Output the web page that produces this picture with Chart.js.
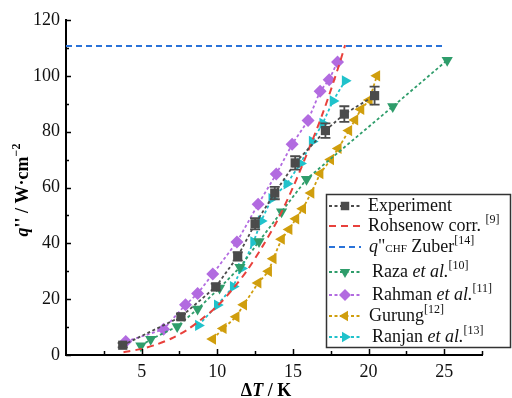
<!DOCTYPE html>
<html>
<head>
<meta charset="utf-8">
<script src="https://cdn.jsdelivr.net/npm/chart.js@4.4.0/dist/chart.umd.min.js"></script>
<style>
  html, body { margin: 0; padding: 0; background: #fff; }
  #wrap { width: 512px; height: 398px; }
</style>
</head>
<body>
<div id="wrap"><canvas id="chart" width="512" height="398"></canvas></div>
<script>
// ===== Data =====
const expDT = [3.75, 7.6, 9.9, 11.35, 12.5, 13.8, 15.15, 17.15, 18.4, 20.4];
const expQ = [3.5, 13.7, 24.4, 35.3, 47, 58, 68.8, 80.4, 86.3, 92.9];
const expErr = [0.8, 1, 1.2, 1.5, 2, 2.2, 2.4, 2.6, 2.8, 3.2];

const rohDT = [3.8, 5, 6, 7, 8, 9, 10, 11, 12, 13, 14, 15, 16, 17, 18, 18.45];
const rohQ = [1, 2.2, 3.8, 6, 9, 13, 17.5, 23.5, 30.5, 39, 48.5, 60, 73, 87, 103, 111];

const zuberDT = [0, 25];
const zuberQ = [110.7, 110.7];

const razaDT = [4.95, 5.6, 7.35, 8.7, 10.15, 11.5, 12.76, 14.25, 15.9, 21.6, 25.2];
const razaQ = [3.3, 5.6, 10.2, 16.5, 24, 31.4, 40.7, 51.3, 63, 89, 105.6];

const rahmanDT = [3.95, 6.45, 7.9, 8.7, 9.7, 11.3, 12.7, 13.9, 14.95, 16.0, 16.8, 17.4, 17.95];
const rahmanQ = [4.8, 9.2, 18, 22, 29, 40.5, 54, 64.8, 75.5, 84, 94.5, 98.6, 105];

const gurungDT = [9.7, 10.4, 11.25, 11.75, 12.7, 13.4, 13.7, 14.25, 14.75, 15.2, 15.65, 16.2, 16.8, 17.5, 18.0, 18.7, 19.1, 19.5, 20.05, 20.55];
const gurungQ = [5.7, 9.5, 13.7, 18, 25.8, 30, 34.5, 41.5, 45, 48.8, 52.4, 58, 65, 70, 74, 80.4, 84.2, 88, 91.3, 100];

const ranjanDT = [8.75, 10.0, 11.05, 11.6, 12.4, 12.9, 13.6, 14.6, 15.5, 16.27, 16.97, 17.65, 18.45];
const ranjanQ = [10.6, 17.9, 24.5, 31, 40.5, 48, 56, 61.3, 68.6, 76.5, 83, 91, 98.2];

const xTicks = [5, 10, 15, 20, 25];
const yTicks = [0, 20, 40, 60, 80, 100, 120];

const SERIF = '"Liberation Serif", "Times New Roman", serif';

function pts(xs, ys) { return xs.map((x, i) => ({ x: x, y: ys[i] })); }

function series(label, xs, ys, color, style, rot) {
    return {
        label: label, data: pts(xs, ys),
        borderColor: color, backgroundColor: color,
        borderWidth: 1.8, borderDash: [3, 2.5],
        pointStyle: style, pointRotation: rot || 0,
        pointRadius: 6.5, pointBorderWidth: 0, pointBackgroundColor: color
    };
}

const datasets = [
    series('Experiment', expDT, expQ, '#4b4b4b', 'rect', 0),
    { label: 'Rohsenow', data: pts(rohDT, rohQ), borderColor: '#e8413c', borderWidth: 2,
      borderDash: [7, 5], pointRadius: 0, tension: 0.3 },
    { label: 'Zuber', data: pts(zuberDT, zuberQ), borderColor: '#2a72d8', borderWidth: 2,
      borderDash: [6, 4], pointRadius: 0 },
    series('Raza', razaDT, razaQ, '#2f9d6b', 'triangle', 180),
    series('Rahman', rahmanDT, rahmanQ, '#b26be0', 'rectRot', 0),
    series('Gurung', gurungDT, gurungQ, '#d09e0d', 'triangle', 270),
    series('Ranjan', ranjanDT, ranjanQ, '#20c2cb', 'triangle', 90)
];

// ===== Text helper (mixed italic / superscript) =====
function drawParts(ctx, x, y, parts, measureOnly) {
    let cx = x;
    parts.forEach(p => {
        const size = p.size || 18;
        ctx.font = (p.it ? 'italic ' : '') + (p.b ? 'bold ' : '') + size + 'px ' + SERIF;
        if (!measureOnly) ctx.fillText(p.t, cx, y + (p.dy || 0));
        cx += ctx.measureText(p.t).width;
    });
    return cx - x;
}

// ===== Legend rows =====
const legendRows = [
    { ds: 0, y: 211, x: 368, parts: [{ t: 'Experiment' }] },
    { ds: 1, y: 231, x: 368, parts: [{ t: 'Rohsenow corr. ' }, { t: '[9]', size: 12, dy: -8 }] },
    { ds: 2, y: 252, x: 369, parts: [{ t: 'q', it: true }, { t: '"' }, { t: 'CHF', size: 11 }, { t: ' Zuber' }, { t: '[14]', size: 12, dy: -8 }] },
    { ds: 3, y: 277, x: 372, parts: [{ t: 'Raza ' }, { t: 'et al.', it: true }, { t: '[10]', size: 12, dy: -8 }] },
    { ds: 4, y: 300, x: 372, parts: [{ t: 'Rahman ' }, { t: 'et al.', it: true }, { t: '[11]', size: 12, dy: -8 }] },
    { ds: 5, y: 321, x: 369, parts: [{ t: 'Gurung' }, { t: '[12]', size: 12, dy: -8 }] },
    { ds: 6, y: 342, x: 372, parts: [{ t: 'Ranjan ' }, { t: 'et al.', it: true }, { t: '[13]', size: 12, dy: -8 }] }
];

const decorPlugin = {
    id: 'decor',
    afterDatasetsDraw(chart) {
        // error bars on the experiment points
        const ctx = chart.ctx, xs = chart.scales.x, ys = chart.scales.y;
        ctx.save();
        ctx.strokeStyle = '#4b4b4b';
        ctx.lineWidth = 1.8;
        ctx.setLineDash([]);
        expDT.forEach((d, i) => {
            const px = xs.getPixelForValue(d);
            const top = ys.getPixelForValue(expQ[i] + expErr[i]);
            const bot = ys.getPixelForValue(expQ[i] - expErr[i]);
            ctx.beginPath();
            ctx.moveTo(px, top); ctx.lineTo(px, bot);
            ctx.moveTo(px - 5, top); ctx.lineTo(px + 5, top);
            ctx.moveTo(px - 5, bot); ctx.lineTo(px + 5, bot);
            ctx.stroke();
        });
        ctx.restore();
    },
    afterDraw(chart) {
        const ctx = chart.ctx, xs = chart.scales.x, ys = chart.scales.y;
        const area = chart.chartArea;
        ctx.save();
        // inward tick marks
        ctx.strokeStyle = '#000';
        ctx.lineWidth = 1.5;
        ctx.setLineDash([]);
        ctx.beginPath();
        for (let v = 0; v <= 120; v += 10) {
            const py = Math.round(ys.getPixelForValue(v)) + 0.5;
            ctx.moveTo(area.left, py);
            ctx.lineTo(area.left + (v % 20 === 0 ? 5 : 3), py);
        }
        for (let v = 2.5; v <= 27.5; v += 2.5) {
            const px = Math.round(xs.getPixelForValue(v)) + 0.5;
            ctx.moveTo(px, area.bottom);
            ctx.lineTo(px, area.bottom - (v % 5 === 0 ? 6 : 4));
        }
        ctx.stroke();

        // axis titles
        ctx.fillStyle = '#000';
        ctx.textBaseline = 'alphabetic';
        const xt = [{ t: 'Δ', b: true }, { t: 'T', b: true, it: true }, { t: ' / K', b: true }];
        const xw = drawParts(ctx, 0, 0, xt, true);
        drawParts(ctx, 266 - xw / 2, 396, xt);

        const yt = [{ t: 'q', b: true, it: true }, { t: "'' / W·cm", b: true }, { t: '−2', b: true, size: 12, dy: -8 }];
        const yw = drawParts(ctx, 0, 0, yt, true);
        ctx.translate(28, 190);
        ctx.rotate(-Math.PI / 2);
        drawParts(ctx, -yw / 2, 0, yt);
        ctx.setTransform(1, 0, 0, 1, 0, 0);

        // legend box
        ctx.fillStyle = '#fff';
        ctx.fillRect(326, 194, 184, 153);
        ctx.strokeStyle = '#333';
        ctx.lineWidth = 1.5;
        ctx.strokeRect(326.5, 194.5, 184, 153);

        legendRows.forEach(row => {
            const ds = chart.data.datasets[row.ds];
            const cy = row.y - 5;
            ctx.strokeStyle = ds.borderColor;
            ctx.lineWidth = ds.borderWidth;
            ctx.setLineDash(ds.borderDash);
            ctx.beginPath();
            ctx.moveTo(329, cy); ctx.lineTo(361, cy);
            ctx.stroke();
            ctx.setLineDash([]);
            if (ds.pointRadius > 0) {
                ctx.fillStyle = ds.backgroundColor;
                Chart.helpers.drawPoint(ctx, { pointStyle: ds.pointStyle, rotation: ds.pointRotation,
                    radius: 6, borderWidth: 0 }, 345, cy);
            }
            ctx.fillStyle = '#111';
            drawParts(ctx, row.x, row.y, row.parts);
        });
        ctx.restore();
    }
};

const ctx = document.getElementById('chart').getContext('2d');
const chart = new Chart(ctx, {
    type: 'line',
    data: { datasets: datasets },
    options: {
        responsive: false,
        animation: false,
        layout: { padding: { top: 20, right: 30, left: 0, bottom: 0 } },
        plugins: { legend: { display: false }, tooltip: { enabled: false } },
        scales: {
            x: {
                type: 'linear', min: 0, max: 27.5,
                afterBuildTicks: s => { s.ticks = xTicks.map(v => ({ value: v })); },
                afterFit: s => { s.height = 43; },
                grid: { display: false, drawTicks: false },
                border: { display: true, color: '#000', width: 2 },
                ticks: { color: '#111', padding: 6, font: { family: SERIF, size: 18 } }
            },
            y: {
                type: 'linear', min: 0, max: 120,
                afterBuildTicks: s => { s.ticks = yTicks.map(v => ({ value: v })); },
                afterFit: s => { s.width = 66; },
                grid: { display: false, drawTicks: false },
                border: { display: true, color: '#000', width: 2 },
                ticks: { color: '#111', padding: 6, font: { family: SERIF, size: 18 } }
            }
        }
    },
    plugins: [decorPlugin]
});
</script>
</body>
</html>
